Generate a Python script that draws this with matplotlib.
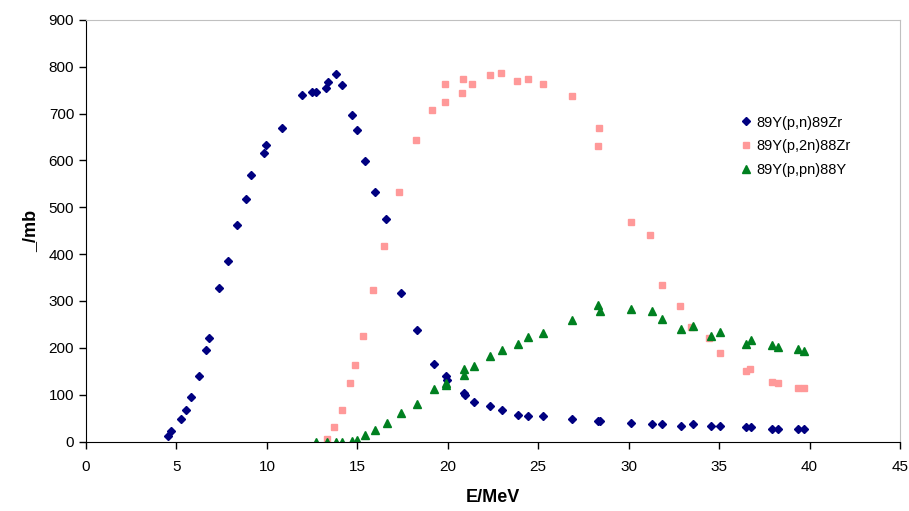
import matplotlib as mpl
mpl.use('Agg')
import matplotlib.pyplot as plt

plt.rcParams['font.family'] = ['Liberation Sans', 'DejaVu Sans']

# 89Y(p,n)89Zr
pn_E = [4.56, 4.72, 5.26, 5.54, 5.80, 6.24, 6.63, 6.79, 7.33, 7.87, 8.33, 8.86, 9.14,
        9.84, 9.93, 10.84, 11.93, 12.47, 12.74, 13.27, 13.37, 13.81, 14.18, 14.70,
        14.98, 15.43, 15.97, 16.60, 17.41, 18.32, 19.22, 19.92, 19.95, 20.92, 20.95,
        21.46, 22.36, 22.99, 23.90, 24.43, 25.24, 26.87, 28.31, 28.40, 30.11, 31.28,
        31.82, 32.91, 33.53, 34.53, 35.07, 36.51, 36.79, 37.93, 38.23, 39.37, 39.67]
pn_xs = [12, 22, 47, 67, 95, 140, 196, 220, 328, 386, 463, 518, 570,
         615, 633, 670, 740, 747, 747, 754, 768, 785, 761, 698,
         664, 598, 533, 474, 318, 238, 165, 140, 132, 104, 100,
         84, 75, 68, 57, 54, 54, 47, 44, 44, 40, 37,
         37, 33, 37, 33, 33, 30, 30, 27, 27, 27, 27]

# 89Y(p,2n)88Zr
p2n_E = [13.30, 13.72, 14.16, 14.60, 14.88, 15.32, 15.88, 16.49, 17.32, 18.26, 19.15,
         19.87, 19.87, 20.81, 20.86, 21.36, 22.36, 22.97, 23.80, 24.41, 25.24, 26.85,
         28.34, 28.29, 30.12, 31.17, 31.83, 32.83, 33.44, 34.44, 35.05, 36.51, 36.69,
         37.93, 38.23, 39.37, 39.67]
p2n_xs = [5, 32, 68, 124, 164, 226, 324, 418, 532, 643, 708,
          725, 764, 744, 774, 764, 782, 786, 769, 773, 764, 737,
          669, 630, 468, 440, 335, 290, 244, 220, 189, 151, 154,
          126, 124, 114, 114]

# 89Y(p,pn)88Y
ppn_E = [12.74, 13.31, 13.83, 14.18, 14.70, 14.98, 15.43, 15.97, 16.62, 17.41, 18.32,
         19.22, 19.92, 19.92, 20.92, 20.92, 21.46, 22.36, 22.99, 23.90, 24.43, 25.24,
         26.87, 28.31, 28.40, 30.11, 31.28, 31.82, 32.91, 33.53, 34.53, 35.07, 36.51,
         36.79, 37.93, 38.23, 39.37, 39.67]
ppn_xs = [-2, -1, -1, 0, 2, 4, 14, 24, 39, 60, 81,
          113, 125, 120, 154, 143, 161, 182, 196, 209, 223, 231,
          259, 292, 278, 282, 278, 261, 240, 247, 226, 233, 208,
          216, 205, 201, 198, 194]

fig = plt.figure(figsize=(9.09, 5.11), dpi=100)
ax = fig.add_axes([0.0946, 0.136, 0.8955, 0.825])

ax.plot(pn_E, pn_xs, linestyle='none', marker='D', markersize=4.3,
        color='#000080', label='89Y(p,n)89Zr')
ax.plot(p2n_E, p2n_xs, linestyle='none', marker='s', markersize=5,
        color='#FF9999', label='89Y(p,2n)88Zr')
ax.plot(ppn_E, ppn_xs, linestyle='none', marker='^', markersize=5.5,
        color='#008020', label='89Y(p,pn)88Y')

ax.set_xlim(0, 45)
ax.set_ylim(0, 900)
ax.set_xticks(range(0, 46, 5))
ax.set_yticks(range(0, 901, 100))
ax.tick_params(direction='out', length=5, labelsize=11, width=1)
ax.tick_params(axis='x', pad=8)

for s in ['top', 'right']:
    ax.spines[s].set_color('#C0C0C0')
for s in ['left', 'bottom']:
    ax.spines[s].set_color('black')

ax.set_xlabel('E/MeV', fontsize=13, fontweight='bold', labelpad=11)
ax.set_ylabel('_/mb', fontsize=13, fontweight='bold', labelpad=7)

ax.legend(loc='upper left', bbox_to_anchor=(0.795, 0.787), frameon=False,
          fontsize=10.5, handletextpad=0.2, labelspacing=0.68,
          handlelength=1.0, borderaxespad=0)

plt.savefig('out.png', dpi=100)
